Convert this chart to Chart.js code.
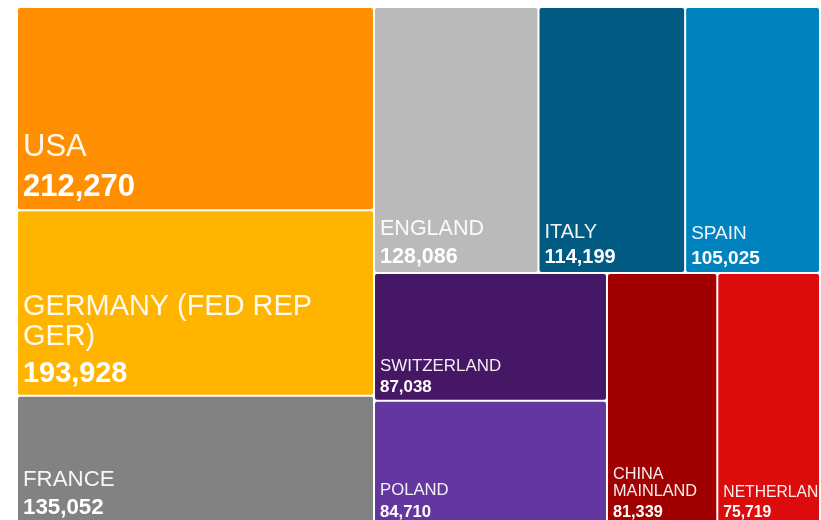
<!DOCTYPE html>
<html>
<head>
<meta charset="utf-8">
<script src="https://cdn.jsdelivr.net/npm/chart.js@4.4.1/dist/chart.umd.min.js"></script>
<style>
  html, body { margin: 0; padding: 0; background: #fff; overflow: hidden; }
  #wrap { position: absolute; left: 17px; top: 7px; width: 803px; height: 518px; }
</style>
</head>
<body>
<div id="wrap"><canvas id="myChart"></canvas></div>
<script>
// values
const countries = ["USA", "GERMANY (FED REP GER)", "FRANCE", "ENGLAND", "ITALY", "SPAIN",
  "SWITZERLAND", "POLAND", "CHINA MAINLAND", "NETHERLANDS"];
const counts = [212270, 193928, 135052, 128086, 114199, 105025, 87038, 84710, 81339, 75719];

const cellColors = ["#ff8f00", "#ffb400", "#828282", "#bababa", "#005a82", "#0082be",
  "#461764", "#6436a0", "#a00000", "#dc0c0c"];

const MAX_RATIO = 3.2;
const FONT = '"Liberation Sans", Arial, sans-serif';

function worst(row, side) {
  const s = row.reduce((a, r) => a + r.area, 0);
  const len = s / side;
  let w = 0;
  row.forEach(r => {
    const o = r.area / len;
    w = Math.max(w, len / o, o / len);
  });
  return w;
}

// strip squarify, working in pixel proportions, returns rects in 0..1 units
function squarify(values, aspectW, aspectH) {
  const total = values.reduce((a, b) => a + b, 0);
  const k = aspectW * aspectH / total;
  let items = values.map((v, i) => ({ i: i, area: v * k }));
  let x = 0, y = 0, w = aspectW, h = aspectH;
  const out = [];
  while (items.length) {
    const vertical = h <= w; // strip runs along the shorter side
    const side = vertical ? h : w;
    let row = [items[0]];
    let n = 1;
    while (n < items.length) {
      const next = row.concat([items[n]]);
      const wn = worst(next, side);
      if (wn <= MAX_RATIO || wn <= worst(row, side)) { row = next; n++; }
      else break;
    }
    items = items.slice(n);
    const s = row.reduce((a, r) => a + r.area, 0);
    const thick = s / side;
    let off = 0;
    row.forEach(r => {
      const len = r.area / thick;
      if (vertical) out[r.i] = { x0: x, x1: x + thick, y0: y + off, y1: y + off + len };
      else out[r.i] = { x0: x + off, x1: x + off + len, y0: y, y1: y + thick };
      off += len;
    });
    if (vertical) { x += thick; w -= thick; } else { y += thick; h -= thick; }
  }
  return out.map(r => ({ x0: r.x0 / aspectW, x1: r.x1 / aspectW, y0: r.y0 / aspectH, y1: r.y1 / aspectH }));
}

function wrapWords(ctx, text, maxW) {
  const words = text.split(" ");
  const lines = [];
  let cur = "";
  words.forEach(wd => {
    const t = cur ? cur + " " + wd : wd;
    if (cur && ctx.measureText(t).width > maxW) { lines.push(cur); cur = wd; }
    else cur = t;
  });
  if (cur) lines.push(cur);
  return lines;
}

const treemapPlugin = {
  id: "treemapCells",
  afterDatasetsDraw(chart) {
    const ctx = chart.ctx;
    const xs = chart.scales.x, ys = chart.scales.y;
    const area = chart.chartArea;
    const rects = squarify(counts, area.right - area.left, area.bottom - area.top);
    rects.forEach((r, i) => {
      const left = xs.getPixelForValue(r.x0) + 1;
      const right = xs.getPixelForValue(r.x1) - 1;
      const top = ys.getPixelForValue(r.y0) + 1;
      const bottom = ys.getPixelForValue(r.y1) - 1;
      ctx.save();
      ctx.beginPath();
      ctx.roundRect(left, top, right - left, bottom - top, 2);
      ctx.fillStyle = cellColors[i];
      ctx.fill();
      ctx.clip();

      const f = 7.2 + 0.112 * counts[i] / 1000;
      const pad = 5;
      ctx.textAlign = "left";
      ctx.textBaseline = "alphabetic";
      ctx.fillStyle = "#ffffff";
      ctx.font = "bold " + f.toFixed(1) + "px " + FONT;
      const vb = bottom - 0.44 * f;
      ctx.fillText(counts[i].toLocaleString("en-US"), left + pad, vb);

      ctx.font = f.toFixed(1) + "px " + FONT;
      ctx.fillStyle = "rgba(255,255,255,0.93)";
      const lines = wrapWords(ctx, countries[i], right - left - 2 * pad);
      let nb = vb - 1.28 * f;
      for (let j = lines.length - 1; j >= 0; j--) {
        ctx.fillText(lines[j], left + pad, nb);
        nb -= 1.03 * f;
      }
      ctx.restore();
    });
  }
};

const chart = new Chart(document.getElementById("myChart"), {
  type: "scatter",
  data: {
    labels: countries,
    datasets: [{ label: "Count", data: [], pointRadius: 0 }]
  },
  options: {
    responsive: true,
    maintainAspectRatio: false,
    animation: false,
    layout: { padding: 0 },
    scales: {
      x: { type: "linear", min: 0, max: 1, display: false },
      y: { type: "linear", min: 0, max: 1, reverse: true, display: false }
    },
    plugins: {
      legend: { display: false },
      tooltip: { enabled: false }
    }
  },
  plugins: [treemapPlugin]
});
</script>
</body>
</html>
